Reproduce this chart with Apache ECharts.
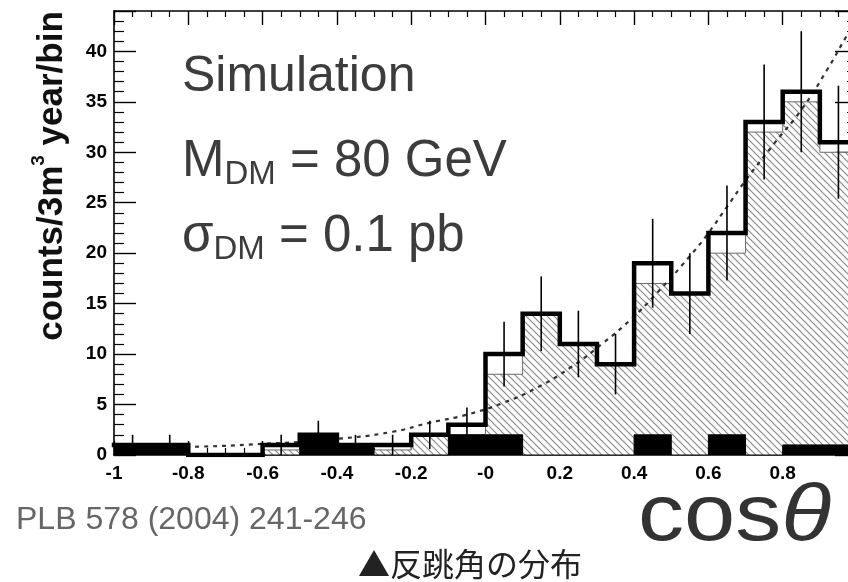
<!DOCTYPE html>
<html>
<head>
<meta charset="utf-8">
<script src="https://cdn.jsdelivr.net/npm/echarts@6/dist/echarts.min.js"></script>
<style>
  html, body { margin: 0; padding: 0; background: #ffffff; }
  #chart { width: 848px; height: 582px; }
</style>
</head>
<body>
<div id="chart"></div>
<script>
// Histogram bin edges in cos(theta)
const binEdges = [-1, -0.9, -0.8, -0.7, -0.6, -0.5, -0.4, -0.3, -0.2, -0.1, 0,
                  0.1, 0.2, 0.3, 0.4, 0.5, 0.6, 0.7, 0.8, 0.9, 1];
// Simulated measurement (thick histogram) and its statistical errors
const measured    = [1, 1, 0, 0, 1, 2, 1, 1, 2, 3, 10, 14, 11, 9, 19, 16, 22, 33, 36, 31];
const measuredErr = [1, 1, 0, 0, 1, 1.4, 1, 1, 1.4, 1.7, 3.2, 3.7, 3.3, 3, 4.4, 4, 4.7, 5.7, 6, 5.6];
// Expected signal distribution (hatched histogram)
const expected    = [0.5, 0.5, 0, 0, 0.5, 1, 0.5, 0.5, 2, 2, 8, 14, 11, 9, 17, 16, 20, 32, 35, 30];
// Background events (solid black histogram)
const background  = [1, 1, 0, 0, 0, 2, 1, 0, 0, 2, 2, 0, 0, 0, 2, 0, 2, 0, 1, 1];
// Fitted curve (dashed)
const fitX = [-1, -0.8, -0.6, -0.4, -0.25, -0.15, -0.05, 0.05, 0.14, 0.23, 0.32, 0.39,
              0.46, 0.55, 0.6, 0.65, 0.7, 0.78, 0.85, 0.92, 0.97, 1.0];
const fitY = [0.7, 0.8, 1.1, 1.6, 2.3, 3.2, 4.0, 5.2, 6.7, 8.7, 11.2, 13.4,
              16.0, 19.7, 22.0, 24.6, 27.2, 31.0, 34.2, 38.2, 41.4, 43.2];

const FONT = '"Liberation Sans", Arial, Helvetica, sans-serif';

// step points for a histogram: one point per bin low edge plus the last high edge
function stepPoints(vals) {
  const pts = vals.map((v, i) => [binEdges[i], v]);
  pts.push([binEdges[binEdges.length - 1], vals[vals.length - 1]]);
  return pts;
}

// diagonal hatch tile
function hatchPattern() {
  const c = document.createElement('canvas');
  const s = 7;
  c.width = s; c.height = s;
  const ctx = c.getContext('2d');
  ctx.fillStyle = '#ffffff';
  ctx.fillRect(0, 0, s, s);
  ctx.strokeStyle = '#8a8a8a';
  ctx.lineWidth = 1.2;
  ctx.beginPath();
  ctx.moveTo(-1, -1); ctx.lineTo(s + 1, s + 1);
  ctx.moveTo(-1, s - 1); ctx.lineTo(1, s + 1);
  ctx.moveTo(s - 1, -1); ctx.lineTo(s + 1, 1);
  ctx.stroke();
  return c;
}

const errData = [];
measured.forEach((v, i) => {
  const e = measuredErr[i];
  if (e > 0) {
    const xc = (binEdges[i] + binEdges[i + 1]) / 2;
    errData.push([xc, Math.max(0, v - e), v + e]);
  }
});

const chart = echarts.init(document.getElementById('chart'), null, { renderer: 'canvas' });

const axisLineStyle = { color: '#000', width: 1.6 };

const option = {
  backgroundColor: '#ffffff',
  animation: false,
  // the frame runs a little past the right edge of the canvas
  grid: { left: 114, top: 11, width: 743, height: 444, containLabel: false, outerBoundsMode: 'none' },
  xAxis: [
    {
      type: 'value', min: -1, max: 1, interval: 0.2, position: 'bottom',
      axisLine: { show: true, onZero: false, lineStyle: axisLineStyle },
      axisTick: { show: true, inside: true, length: 14, lineStyle: { color: '#000', width: 1.4 } },
      minorTick: { show: true, splitNumber: 4, length: 7, lineStyle: { color: '#000', width: 1.2 } },
      splitLine: { show: false },
      axisLabel: {
        margin: 9, color: '#000', fontFamily: FONT, fontWeight: 'bold', fontSize: 19,
        formatter: v => (Math.abs(v) < 1e-9 ? '-0' : String(+v.toFixed(1)))
      }
    },
    {
      type: 'value', min: -1, max: 1, interval: 0.2, position: 'top',
      axisLine: { show: true, onZero: false, lineStyle: axisLineStyle },
      axisTick: { show: true, inside: true, length: 14, lineStyle: { color: '#000', width: 1.4 } },
      minorTick: { show: true, splitNumber: 4, length: 6, lineStyle: { color: '#000', width: 1.2 } },
      splitLine: { show: false },
      axisLabel: { show: false }
    }
  ],
  yAxis: [
    {
      type: 'value', min: 0, max: 44, interval: 5, position: 'left',
      axisLine: { show: true, onZero: false, lineStyle: axisLineStyle },
      axisTick: { show: true, inside: true, length: 22, lineStyle: { color: '#000', width: 1.4 } },
      minorTick: { show: true, splitNumber: 5, length: 10, lineStyle: { color: '#000', width: 1.2 } },
      splitLine: { show: false },
      axisLabel: {
        margin: 7, color: '#000', fontFamily: FONT, fontWeight: 'bold', fontSize: 19,
        showMaxLabel: false
      }
    },
    {
      type: 'value', min: 0, max: 44, interval: 5, position: 'right',
      axisLine: { show: true, onZero: false, lineStyle: axisLineStyle },
      axisTick: { show: true, inside: true, length: 22, lineStyle: { color: '#000', width: 1.4 } },
      minorTick: { show: true, splitNumber: 5, length: 10, lineStyle: { color: '#000', width: 1.2 } },
      splitLine: { show: false },
      axisLabel: { show: false }
    }
  ],
  series: [
    {
      name: 'expected', type: 'line', step: 'end', symbol: 'none', z: 1,
      data: stepPoints(expected),
      lineStyle: { color: '#6a6a6a', width: 1 },
      areaStyle: { color: { image: hatchPattern(), repeat: 'repeat' }, opacity: 1, origin: 'start' }
    },
    {
      name: 'fit', type: 'line', smooth: true, symbol: 'none', z: 2,
      data: fitX.map((x, i) => [x, fitY[i]]),
      lineStyle: { color: '#333', width: 2.2, type: [4, 5] }
    },
    {
      name: 'background', type: 'line', step: 'end', symbol: 'none', z: 3,
      data: stepPoints(background),
      lineStyle: { color: '#000', width: 1 },
      areaStyle: { color: '#000', opacity: 1, origin: 'start' }
    },
    {
      name: 'measured', type: 'line', step: 'end', symbol: 'none', z: 4,
      data: stepPoints(measured),
      lineStyle: { color: '#000', width: 4.5, cap: 'square', join: 'miter' }
    },
    {
      name: 'errors', type: 'custom', z: 5,
      data: errData,
      renderItem: (params, api) => {
        const p1 = api.coord([api.value(0), api.value(1)]);
        const p2 = api.coord([api.value(0), api.value(2)]);
        return {
          type: 'line',
          shape: { x1: p1[0], y1: p1[1], x2: p2[0], y2: p2[1] },
          style: { stroke: '#000', lineWidth: 1.6 }
        };
      }
    }
  ],
  graphic: [
    {
      type: 'text', x: 52, y: 176, rotation: Math.PI / 2,
      style: {
        text: 'counts/3m{s|3} year/bin',
        fontFamily: FONT, fontWeight: 'bold', fontSize: 35, fill: '#111',
        align: 'center', verticalAlign: 'middle',
        rich: { s: { fontFamily: FONT, fontWeight: 'bold', fontSize: 19, fill: '#111', padding: [0, 0, 26, 0] } }
      }
    },
    {
      type: 'text', x: 182, y: 77,
      style: { text: 'Simulation', fontFamily: FONT, fontSize: 50, fill: '#3c3c3c', align: 'left', verticalAlign: 'middle' }
    },
    {
      type: 'text', x: 182, y: 162,
      style: {
        text: 'M{d|DM} = 80 GeV', fontFamily: FONT, fontSize: 51, fill: '#3c3c3c',
        align: 'left', verticalAlign: 'middle',
        rich: { d: { fontFamily: FONT, fontSize: 33, fill: '#3c3c3c', padding: [25, 0, 0, 0] } }
      }
    },
    {
      type: 'text', x: 182, y: 237,
      style: {
        text: 'σ{d|DM} = 0.1 pb', fontFamily: FONT, fontSize: 51, fill: '#3c3c3c',
        align: 'left', verticalAlign: 'middle',
        rich: { d: { fontFamily: FONT, fontSize: 33, fill: '#3c3c3c', padding: [25, 0, 0, 0] } }
      }
    },
    {
      type: 'text', x: 16, y: 520,
      style: { text: 'PLB 578 (2004) 241-246', fontFamily: FONT, fontSize: 32, fill: '#666', align: 'left', verticalAlign: 'middle' }
    },
    {
      type: 'text', x: 638, y: 518, scaleX: 1.15,
      style: {
        text: 'cos{t|θ}', fontFamily: FONT, fontSize: 80, fill: '#333', align: 'left', verticalAlign: 'middle',
        rich: { t: { fontFamily: FONT, fontSize: 80, fontStyle: 'italic', fill: '#333' } }
      }
    },
    {
      type: 'text', x: 470, y: 564,
      style: { text: '▲反跳角の分布', fontFamily: '"Noto Sans CJK JP", sans-serif', fontSize: 32, fill: '#222', align: 'center', verticalAlign: 'middle' }
    }
  ]
};

chart.setOption(option);
</script>
</body>
</html>
